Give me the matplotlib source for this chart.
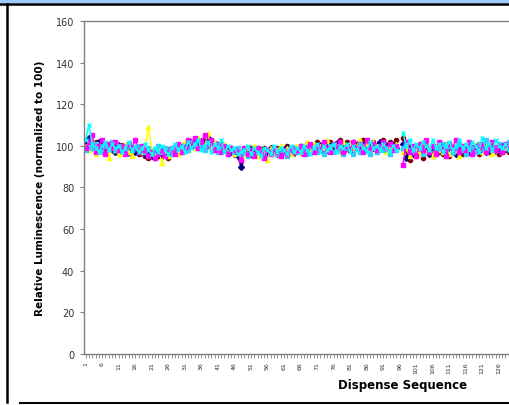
import numpy as np
import matplotlib
matplotlib.use("Agg")
import matplotlib.pyplot as plt
from matplotlib.patches import Rectangle
from matplotlib.lines import Line2D

nan = np.nan

# dispense sequence (visible part of the chart)
dispense = list(range(1, 131))

navy = [101, 104, 100, 99, 102, 100, 98, 99, 101, 97, 99, 100, 98, 100, 99, 97,
        98, 99, 96, 97, 95, 96, 97, 95, 96, 98, 97, 99, 100, 98, 101, 100,
        102, 101, 103, 100, 102, 104, 101, 100, 99, 101, 98, 99, 97, 96, 95, 90,
        97, 98, 96, 99, 97, 98, 96, 97, 99, 98, 96, 97, 98, 99, 97, 98,
        99, 97, 98, 100, 99, 98, 100, 99, 101, 98, 100, 99, 101, 100, 98, 100,
        99, 101, 100, 102, 99, 100, 101, 99, 100, 102, 100, 99, 101, 100, 99,
        nan,
        101, 94, 98, 96, 99, 97, 100, 98, 96, 99, 97, 98, 100, 97, 99, 98,
        96, 99, 98, 100, 97, 99, 98, 100, 99, 97, 98, 100, 99, 98, 100, 99, 98, 99]

magenta = [99, 102, 105, 97, 100, 103, 96, 101, 99, 102, 98, 100, 96, 101, 99, 103,
           97, 100, 98, 95, 97, 94, 96, 98, 95, 97, 99, 96, 101, 97, 99, 103,
           100, 104, 99, 102, 105, 100, 103, 98, 101, 97, 100, 96, 99, 98, 97, 93,
           99, 96, 98, 95, 99, 97, 94, 98, 96, 99, 97, 95, 98, 96, 99, 97,
           98, 100, 96, 99, 101, 97, 100, 98, 102, 99, 97, 101, 99, 102, 97, 100,
           98, 102, 99, 101, 97, 103, 99, 101, 98, 100, 102, 99, 101, 98, 100,
           nan,
           91, 102, 97, 100, 95, 101, 98, 103, 97, 100, 96, 102, 98, 95, 101, 99,
           103, 97, 100, 98, 102, 96, 100, 98, 101, 97, 99, 102, 98, 100, 97, 101, 99, 100]

yellow = [100, 98, 103, 96, 99, 97, 101, 94, 100, 98, 96, 99, 101, 97, 95, 100,
          99, 97, 100, 109, 98, 96, 99, 92, 97, 95, 98, 100, 96, 99, 102, 98,
          101, 99, 104, 102, 100, 106, 99, 102, 100, 98, 101, 97, 99, 96, 98, 95,
          96, 99, 97, 100, 95, 98, 97, 93, 99, 96, 98, 100, 97, 99, 96, 98,
          100, 97, 99, 102, 98, 101, 97, 100, 99, 103, 98, 101, 100, 97, 102, 99,
          101, 98, 100, 103, 99, 101, 98, 102, 100, 99, 101, 97, 100, 99, 101,
          nan,
          97, 99, 95, 100, 98, 96, 102, 97, 99, 95, 100, 98, 97, 101, 96, 99,
          98, 95, 100, 97, 99, 96, 101, 98, 97, 100, 99, 96, 98, 101, 97, 99, 100, 98]

cyan = [103, 110, 101, 99, 97, 100, 102, 98, 101, 99, 100, 97, 99, 102, 98, 100,
        97, 99, 101, 98, 96, 99, 97, 100, 98, 96, 99, 101, 98, 100, 97, 102,
        99, 101, 103, 98, 100, 102, 97, 101, 99, 103, 97, 100, 98, 99, 96, 97,
        98, 100, 96, 99, 97, 95, 99, 98, 96, 100, 97, 99, 98, 96, 100, 97,
        99, 97, 100, 98, 96, 99, 101, 97, 100, 98, 99, 101, 97, 100, 99, 101,
        97, 100, 98, 101, 99, 97, 102, 99, 100, 98, 101, 99, 97, 100, 98,
        nan,
        106, 100, 103, 98, 101, 99, 102, 100, 98, 103, 99, 101, 97, 100, 102, 98,
        100, 103, 99, 101, 98, 102, 100, 97, 104, 99, 101, 98, 103, 100, 99, 101, 98, 100]

maroon = [100, 101, 99, 102, 98, 100, 99, 101, 98, 100, 97, 99, 98, 97, 99, 98,
          96, 97, 95, 94, 96, 94, 95, 97, 96, 94, 97, 99, 98, 100, 99, 101,
          100, 102, 101, 100, 103, 101, 102, 99, 100, 98, 99, 97, 98, 97, 96, 95,
          98, 97, 99, 96, 98, 97, 99, 96, 98, 97, 99, 98, 97, 100, 98, 99,
          98, 100, 99, 101, 98, 100, 102, 99, 101, 100, 102, 99, 101, 103, 100, 102,
          100, 102, 101, 99, 103, 101, 100, 102, 99, 101, 103, 100, 102, 101, 103,
          nan,
          104, 96, 93, 99, 95, 98, 94, 100, 97, 95, 99, 97, 96, 98, 95, 99,
          97, 99, 96, 98, 100, 97, 99, 96, 98, 100, 97, 99, 98, 96, 100, 98, 97, 99]

skyblue = [98, 100, 99, 101, 98, 97, 100, 99, 102, 98, 100, 99, 97, 100, 98, 99,
           100, 98, 97, 99, 96, 98, 100, 97, 99, 98, 96, 100, 99, 97, 100, 98,
           102, 100, 99, 101, 98, 100, 102, 99, 97, 100, 98, 96, 99, 97, 99, 96,
           97, 95, 98, 96, 99, 97, 95, 98, 97, 99, 96, 98, 97, 95, 98, 99,
           97, 99, 98, 96, 100, 98, 97, 99, 96, 98, 100, 97, 99, 98, 96, 99,
           98, 96, 99, 97, 100, 98, 96, 99, 97, 100, 98, 99, 96, 100, 98,
           nan,
           99, 102, 98, 97, 100, 99, 96, 101, 98, 100, 97, 99, 101, 98, 100, 97,
           99, 101, 98, 96, 100, 99, 97, 101, 98, 103, 100, 98, 99, 101, 97, 100, 102, 99]

purple = [101, 99, 102, 100, 97, 99, 101, 98, 100, 99, 101, 98, 100, 96, 99, 98,
          97, 96, 98, 95, 97, 95, 96, 98, 97, 95, 98, 97, 99, 98, 100, 99,
          101, 100, 102, 103, 99, 101, 100, 102, 98, 100, 99, 98, 97, 98, 96, 92,
          98, 96, 98, 97, 96, 98, 97, 96, 98, 97, 98, 96, 99, 97, 98, 96,
          99, 98, 97, 100, 99, 98, 100, 101, 98, 99, 100, 98, 102, 99, 100, 98,
          101, 99, 100, 98, 101, 100, 99, 101, 100, 98, 99, 101, 100, 99, 100,
          nan,
          98, 97, 100, 96, 98, 100, 97, 99, 98, 96, 100, 98, 99, 97, 98, 100,
          98, 97, 99, 100, 98, 97, 100, 99, 98, 97, 99, 100, 97, 99, 98, 100, 99, 98]

# drawing order: dark series underneath, bright ones on top
series = [
    (maroon, "#800000", "o"),
    (purple, "#800080", "*"),
    (navy, "#000080", "D"),
    (yellow, "#FFFF00", "^"),
    (skyblue, "#33CCFF", "s"),
    (magenta, "#FF00FF", "s"),
    (cyan, "#00FFFF", "x"),
]

W, H = 509, 406
fig = plt.figure(figsize=(W / 100, H / 100), dpi=100)
fig.patch.set_facecolor("white")

# plot area runs past the right edge (screenshot is cropped)
ax = fig.add_axes([84 / W, 51 / H, 638 / W, 333 / H])
for vals, col, mk in series:
    ax.plot(dispense, vals, color=col, lw=1.1, marker=mk, ms=3.0,
            mew=1.0, mfc=col, mec=col)

ax.set_ylim(0, 160)
ax.set_xlim(0.5, 193.5)
ax.set_yticks(range(0, 161, 20))
ax.set_xticks(dispense)
ax.set_xticklabels([str(d) if (d - 1) % 5 == 0 else "" for d in dispense],
                   rotation=90, fontsize=4.5)
ax.tick_params(axis="y", labelsize=7, length=3, color="#808080", labelcolor="#333333", pad=4)
ax.tick_params(axis="x", length=3, color="#808080", labelcolor="#333333", pad=2, width=0.6)
for s in ax.spines.values():
    s.set_color("#808080")
    s.set_linewidth(1.0)

ax.set_ylabel("Relative Luminescence (normalized to 100)", fontsize=7.5,
              fontweight="bold", labelpad=8)
ax.set_xlabel("Dispense Sequence", fontsize=8.5, fontweight="bold", labelpad=4)

# screenshot frame: blue band at top and black border lines
fig.add_artist(Rectangle((0, 1 - 4 / H), 1, 4 / H, transform=fig.transFigure,
                         facecolor="#99CCFF", edgecolor="none"))
fig.add_artist(Line2D([0, 1], [1 - 5 / H, 1 - 5 / H], transform=fig.transFigure,
                      color="black", lw=1.8))
fig.add_artist(Line2D([7 / W, 7 / W], [3 / H, 1 - 5 / H], transform=fig.transFigure,
                      color="black", lw=1.8))
fig.add_artist(Line2D([20 / W, 1], [2 / H, 2 / H], transform=fig.transFigure,
                      color="black", lw=1.5))

fig.savefig("out.png", dpi=100)
